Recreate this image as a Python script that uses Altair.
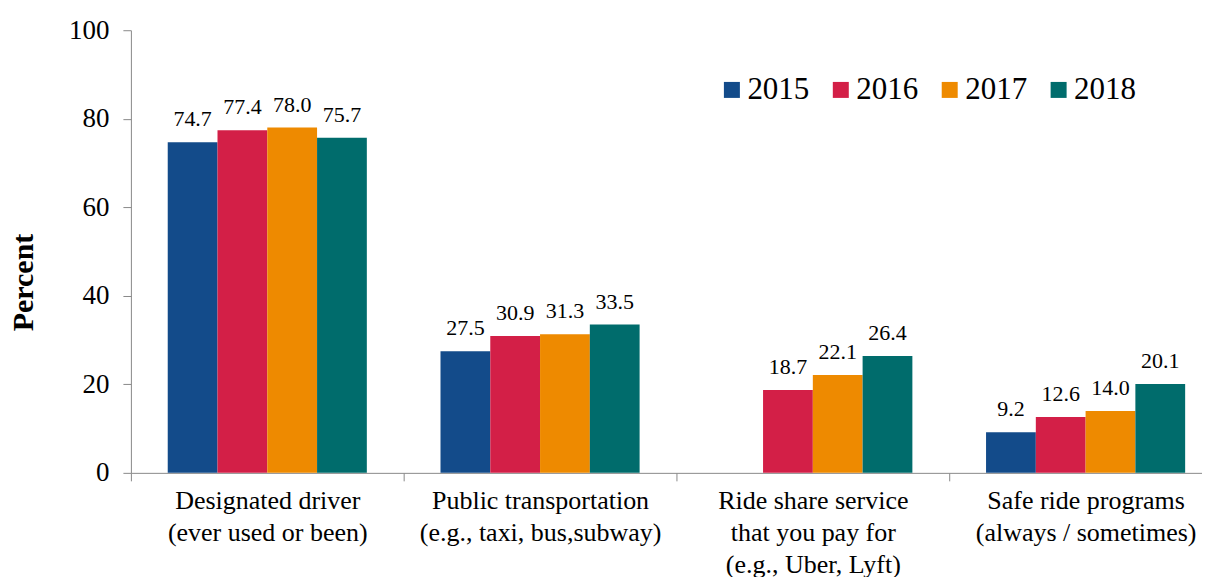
import altair as alt
import pandas as pd

categories = [
    "Designated driver\n(ever used or been)",
    "Public transportation\n(e.g., taxi, bus,subway)",
    "Ride share service\nthat you pay for\n(e.g., Uber, Lyft)",
    "Safe ride programs\n(always / sometimes)",
]
years = ["2015", "2016", "2017", "2018"]
colors = ["#134B8A", "#D31F47", "#EE8A00", "#006C6C"]

v2015 = [74.7, 27.5, None, 9.2]
v2016 = [77.4, 30.9, 18.7, 12.6]
v2017 = [78.0, 31.3, 22.1, 14.0]
v2018 = [75.7, 33.5, 26.4, 20.1]

rows = []
for yr, vals in zip(years, [v2015, v2016, v2017, v2018]):
    for cat, v in zip(categories, vals):
        if v is not None:
            rows.append({"category": cat, "year": yr, "value": v})
df = pd.DataFrame(rows)

FONT = "Liberation Serif"
GRAY = "#898989"

x_enc = alt.X(
    "category:N",
    sort=categories,
    scale=alt.Scale(paddingInner=0, paddingOuter=0),
    axis=alt.Axis(
        title=None,
        labelAngle=0,
        labelFont=FONT,
        labelFontSize=26,
        labelColor="black",
        labelLineHeight=32,
        labelPadding=7,
        labelLimit=0,
        labelOverlap=False,
        tickSize=8,
        tickBand="extent",
        tickColor=GRAY,
        domainColor=GRAY,
        labelExpr="split(datum.label, '\\n')",
    ),
)
xoff_enc = alt.XOffset(
    "year:N", sort=years, scale=alt.Scale(paddingInner=0, paddingOuter=0.74)
)
y_enc = alt.Y(
    "value:Q",
    scale=alt.Scale(domain=[0, 100]),
    axis=alt.Axis(
        title="Percent",
        titleFont=FONT,
        titleFontSize=30,
        titleFontWeight="bold",
        titleColor="black",
        titleBaseline="alphabetic",
        titleAlign="center",
        titleAngle=270,
        titleX=-98,
        titleY=252,
        values=[0, 20, 40, 60, 80, 100],
        grid=False,
        tickSize=8,
        tickColor=GRAY,
        domainColor=GRAY,
        labelFont=FONT,
        labelFontSize=27,
        labelColor="black",
        labelPadding=14,
    ),
)

bars = alt.Chart(df).mark_bar().encode(
    x=x_enc,
    xOffset=xoff_enc,
    y=y_enc,
    color=alt.Color(
        "year:N",
        scale=alt.Scale(domain=years, range=colors),
        legend=alt.Legend(
            title=None,
            orient="none",
            legendX=586,
            legendY=44,
            direction="horizontal",
            columns=4,
            labelFont=FONT,
            labelFontSize=31,
            labelColor="black",
            symbolType="square",
            symbolSize=256,
            symbolStrokeWidth=0,
            labelOffset=0,
            columnPadding=16,
            padding=0,
        ),
    ),
)

labels = alt.Chart(df).mark_text(
    baseline="alphabetic", dy=-16, fontSize=22, font=FONT, color="black"
).encode(
    x=x_enc,
    xOffset=xoff_enc,
    y=y_enc,
    text=alt.Text("value:Q", format=".1f"),
)

chart = (
    alt.layer(bars, labels)
    .properties(
        width=1092,
        height=443,
        autosize=alt.AutoSizeParams(type="none"),
        padding={"left": 123, "top": 22, "right": -20, "bottom": 104},
    )
    .configure(font=FONT)
    .configure_view(stroke=None)
)

chart.save("out.html", embed_options={"renderer": "svg", "actions": False})
